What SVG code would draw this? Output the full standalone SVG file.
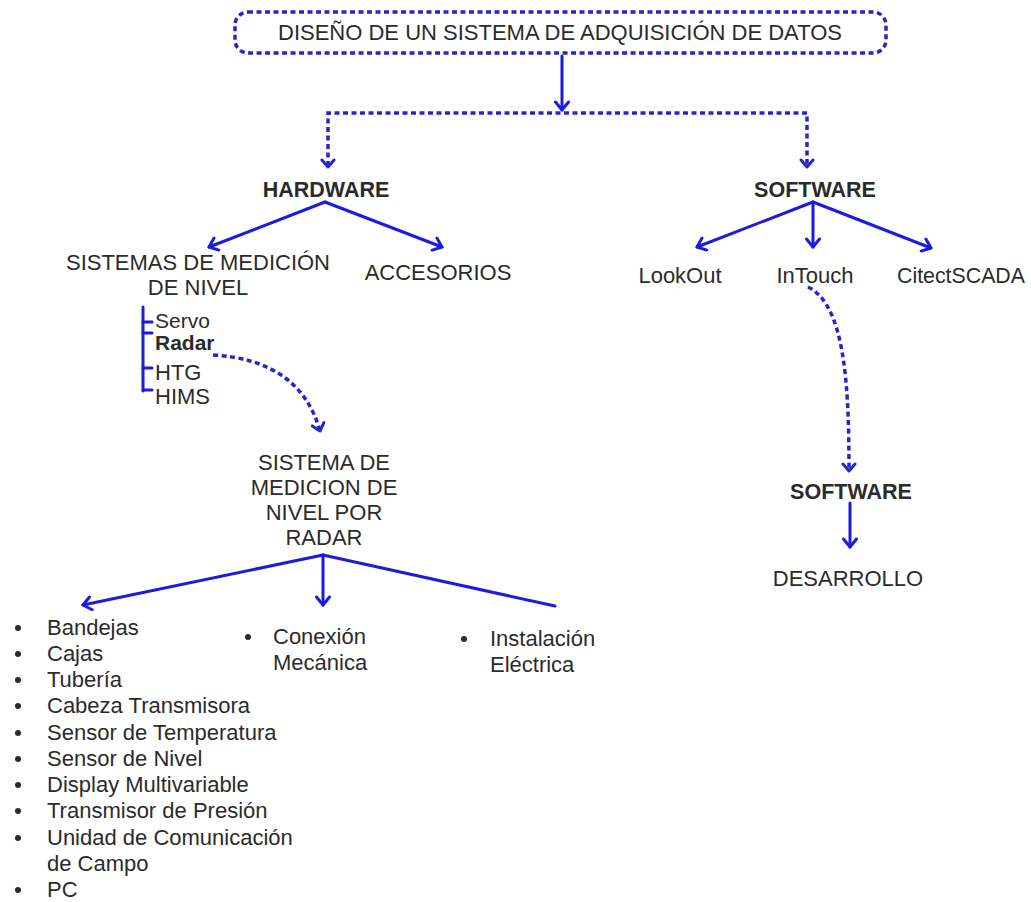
<svg xmlns="http://www.w3.org/2000/svg" width="1031" height="902" viewBox="0 0 1031 902">
  <style>
    text { font-family: "Liberation Sans", Arial, sans-serif; font-size: 22px; fill: #2b2b2b; }
    .c { text-anchor: middle; }
    .b { font-weight: bold; font-size: 21.5px; }
    .s { font-size: 21px; }
    .solid { fill: none; stroke: #1c1ce0; stroke-width: 3; stroke-linecap: round; }
    .dash { fill: none; stroke: #2626c8; stroke-width: 3.5; stroke-dasharray: 5 3.5; }
    .dot { fill: #2b2b2b; }
  </style>
  <defs>
    <marker id="arrow" viewBox="-10 -8 12 16" markerWidth="12" markerHeight="16" refX="0" refY="0" orient="auto" markerUnits="userSpaceOnUse">
      <path d="M-8,-6.5 L0,0 L-8,6.5" fill="none" stroke="#1c1ce0" stroke-width="3" stroke-linecap="round" stroke-linejoin="round"/>
    </marker>
    <marker id="arrowd" viewBox="-10 -8 12 16" markerWidth="12" markerHeight="16" refX="0" refY="0" orient="auto" markerUnits="userSpaceOnUse">
      <path d="M-7,-6 L0,0 L-7,6" fill="none" stroke="#2626c8" stroke-width="3" stroke-linecap="round" stroke-linejoin="round"/>
    </marker>
  </defs>
  <rect width="1031" height="902" fill="#ffffff"/>

  <!-- connectors -->
  <g id="connectors">
    <path class="solid" d="M562,56 L562,110" marker-end="url(#arrow)"/>
    <path class="dash" d="M328,166 L328,113 L807,113 L807,166" />
    <path class="solid" d="M328,158 L328,167" marker-end="url(#arrowd)" style="stroke:none"/>
    <path class="solid" d="M807,158 L807,167" marker-end="url(#arrowd)" style="stroke:none"/>

    <path class="solid" d="M325,202 L209,247" marker-end="url(#arrow)"/>
    <path class="solid" d="M325,202 L442,247" marker-end="url(#arrow)"/>

    <path class="solid" d="M143,307 L143,391"/>
    <path class="solid" d="M143,322 L152,322 M143,333 L152,333 M143,368 L152,368 M143,390 L152,390"/>

    <path class="dash" d="M213,355 Q300,360 320,431" marker-end="url(#arrowd)"/>

    <path class="solid" d="M323,555 L83,605" marker-end="url(#arrow)"/>
    <path class="solid" d="M323,555 L323,605" marker-end="url(#arrow)"/>
    <path class="solid" d="M323,555 L555,606"/>

    <path class="solid" d="M813,202 L697,247" marker-end="url(#arrow)"/>
    <path class="solid" d="M813,202 L813,247" marker-end="url(#arrow)"/>
    <path class="solid" d="M813,202 L931,248" marker-end="url(#arrow)"/>

    <path class="dash" d="M808,287 C845,305 849,385 849,471" marker-end="url(#arrowd)"/>

    <path class="solid" d="M850,503 L850,547" marker-end="url(#arrow)"/>
  </g>

  <g id="node-title">
    <rect class="dash" x="235" y="12" width="651" height="41" rx="13"/>
    <text class="c" x="560" y="40">DISEÑO DE UN SISTEMA DE ADQUISICIÓN DE DATOS</text>
  </g>

  <g id="node-hardware"><text class="c b" x="326" y="197">HARDWARE</text></g>
  <g id="node-software"><text class="c b" x="815" y="197">SOFTWARE</text></g>

  <g id="node-sistemas">
    <text class="c" x="198" y="270">SISTEMAS DE MEDICIÓN</text>
    <text class="c" x="198" y="295">DE NIVEL</text>
  </g>
  <g id="node-accesorios"><text class="c" x="438" y="280">ACCESORIOS</text></g>

  <g id="node-tipos">
    <text class="s" x="155" y="328">Servo</text>
    <text class="s" x="155" y="350" style="font-weight:bold">Radar</text>
    <text x="155" y="380">HTG</text>
    <text x="155" y="404">HIMS</text>
  </g>

  <g id="node-radar">
    <text class="c" x="324" y="470">SISTEMA DE</text>
    <text class="c" x="324" y="495">MEDICION DE</text>
    <text class="c" x="324" y="520">NIVEL POR</text>
    <text class="c" x="324" y="545">RADAR</text>
  </g>

  <g id="node-accesorios-lista">
    <circle class="dot" cx="18" cy="628" r="3"/><text x="47" y="635">Bandejas</text>
    <circle class="dot" cx="18" cy="654" r="3"/><text x="47" y="661">Cajas</text>
    <circle class="dot" cx="18" cy="680" r="3"/><text x="47" y="687">Tubería</text>
    <circle class="dot" cx="18" cy="706" r="3"/><text x="47" y="713">Cabeza Transmisora</text>
    <circle class="dot" cx="18" cy="733" r="3"/><text x="47" y="740">Sensor de Temperatura</text>
    <circle class="dot" cx="18" cy="759" r="3"/><text x="47" y="766">Sensor de Nivel</text>
    <circle class="dot" cx="18" cy="785" r="3"/><text x="47" y="792">Display Multivariable</text>
    <circle class="dot" cx="18" cy="811" r="3"/><text x="47" y="818">Transmisor de Presión</text>
    <circle class="dot" cx="18" cy="838" r="3"/><text x="47" y="845">Unidad de Comunicación</text>
    <text x="47" y="871">de Campo</text>
    <circle class="dot" cx="18" cy="890" r="3"/><text x="47" y="897">PC</text>
  </g>

  <g id="node-mecanica">
    <circle class="dot" cx="248" cy="637" r="3"/>
    <text x="273" y="644">Conexión</text>
    <text x="273" y="670">Mecánica</text>
  </g>
  <g id="node-electrica">
    <circle class="dot" cx="464" cy="639" r="3"/>
    <text x="490" y="646">Instalación</text>
    <text x="490" y="672">Eléctrica</text>
  </g>

  <g id="node-lookout"><text class="c" x="680" y="283">LookOut</text></g>
  <g id="node-intouch"><text class="c" x="815" y="283">InTouch</text></g>
  <g id="node-citect"><text x="897" y="283" textLength="128" lengthAdjust="spacingAndGlyphs">CitectSCADA</text></g>

  <g id="node-software2"><text class="c b" x="851" y="499">SOFTWARE</text></g>
  <g id="node-desarrollo"><text class="c" x="848" y="586">DESARROLLO</text></g>
</svg>
